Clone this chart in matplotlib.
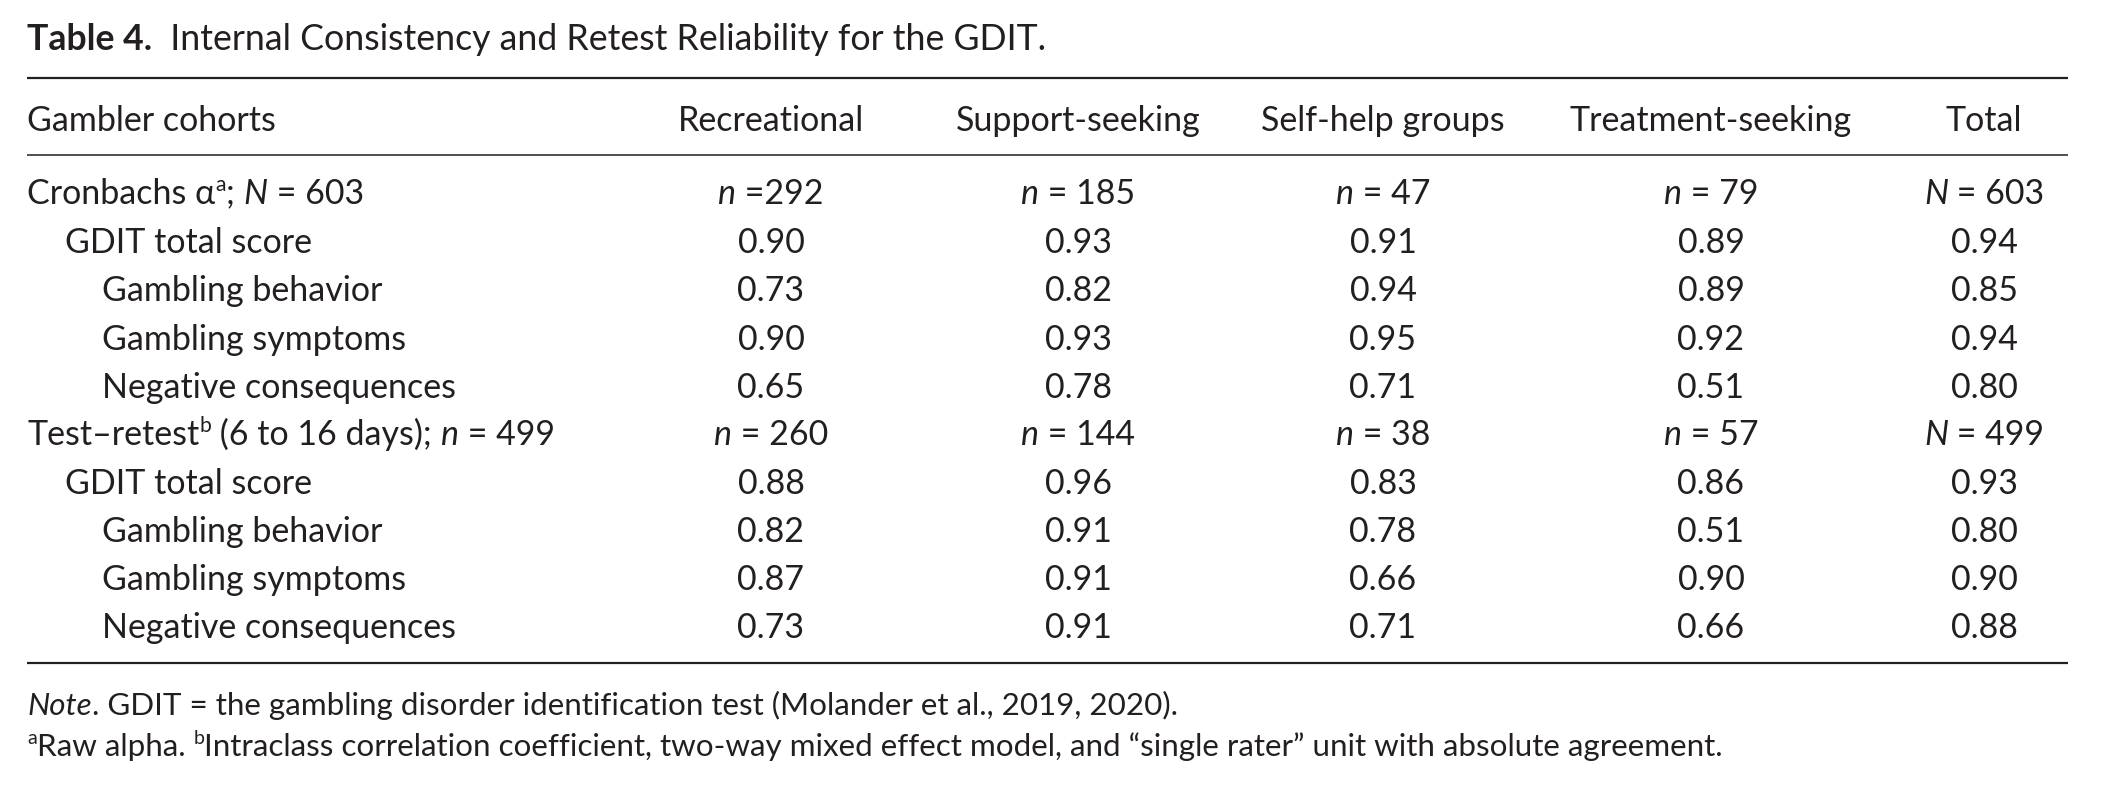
import matplotlib
matplotlib.use("Agg")
import matplotlib.pyplot as plt

FONT = "Lato"
INK = "#231f20"

title_bold = "Table 4."
title_rest = "Internal Consistency and Retest Reliability for the GDIT."
stub_header = "Gambler cohorts"
cohorts = ["Recreational", "Support-seeking", "Self-help groups", "Treatment-seeking", "Total"]

alpha_label = [("Cronbachs α", "n"), ("a", "sup"), ("; ", "n"), ("N", "i"), (" = 603", "n")]
alpha_n_sym = ["n", "n", "n", "n", "N"]
alpha_n_val = [" =292", " = 185", " = 47", " = 79", " = 603"]
alpha_items = ["GDIT total score", "Gambling behavior", "Gambling symptoms", "Negative consequences"]
alpha_indent = [1, 2, 2, 2]
alpha_values = [
    ["0.90", "0.93", "0.91", "0.89", "0.94"],
    ["0.73", "0.82", "0.94", "0.89", "0.85"],
    ["0.90", "0.93", "0.95", "0.92", "0.94"],
    ["0.65", "0.78", "0.71", "0.51", "0.80"],
]

retest_label = [("Test–retest", "n"), ("b", "sup"), (" (6 to 16 days); ", "n"), ("n", "i"), (" = 499", "n")]
retest_n_sym = ["n", "n", "n", "n", "N"]
retest_n_val = [" = 260", " = 144", " = 38", " = 57", " = 499"]
retest_items = ["GDIT total score", "Gambling behavior", "Gambling symptoms", "Negative consequences"]
retest_indent = [1, 2, 2, 2]
retest_values = [
    ["0.88", "0.96", "0.83", "0.86", "0.93"],
    ["0.82", "0.91", "0.78", "0.51", "0.80"],
    ["0.87", "0.91", "0.66", "0.90", "0.90"],
    ["0.73", "0.91", "0.71", "0.66", "0.88"],
]

note_line = [("Note", "i"), (". GDIT = the gambling disorder identification test (Molander et al., 2019, 2020).", "n")]
foot_line = [("a", "sup"), ("Raw alpha. ", "n"), ("b", "sup"),
             ("Intraclass correlation coefficient, two-way mixed effect model, and \u201csingle rater\u201d unit with absolute agreement.", "n")]

W, H = 2112, 789
fig = plt.figure(figsize=(W / 100, H / 100), dpi=100)
ax = fig.add_axes([0, 0, 1, 1])
ax.set_xlim(0, W)
ax.set_ylim(H, 0)
ax.axis("off")
renderer = fig.canvas.get_renderer()

FS = 24.5
TFS = 25.7
NFS = 22.6
x0 = 27
indent_px = [x0, 65, 102]
col_x = [771, 1078, 1383, 1711, 1984]
x_right = 2068


def seg_style(kind, fs):
    if kind == "sup":
        return dict(fontsize=fs * 0.62, style="normal", weight="normal"), -fs * 0.52
    if kind == "i":
        return dict(fontsize=fs, style="italic", weight="normal"), 0
    if kind == "b":
        return dict(fontsize=fs, style="normal", weight="bold"), 0
    return dict(fontsize=fs, style="normal", weight="normal"), 0


def draw_segments(segs, x, y, fs, align="left"):
    widths = []
    for txt, kind in segs:
        st, _ = seg_style(kind, fs)
        t = ax.text(0, 0, txt.replace(" ", "\u00a0"), family=FONT, **st)
        widths.append(t.get_window_extent(renderer).width)
        t.remove()
    total = sum(widths)
    if align == "center":
        x = x - total / 2
    cx = x
    for (txt, kind), w in zip(segs, widths):
        st, dy = seg_style(kind, fs)
        ax.text(cx, y + dy, txt.replace(" ", "\u00a0"), family=FONT, color=INK,
                va="baseline", ha="left", **st)
        cx += w
    return total


# title
draw_segments([(title_bold, "b"), ("  " + title_rest, "n")], x0, 50, TFS)

# rules
ax.plot([x0, x_right], [78, 78], color=INK, lw=1.6, solid_capstyle="butt")
ax.plot([x0, x_right], [155, 155], color=INK, lw=1.1, solid_capstyle="butt")
ax.plot([x0, x_right], [663, 663], color=INK, lw=1.6, solid_capstyle="butt")

BOFF = 12.5
hy = 118 + BOFF
ax.text(x0, hy, stub_header, family=FONT, fontsize=FS, color=INK, va="baseline")
for cx, c in zip(col_x, cohorts):
    ax.text(cx, hy, c, family=FONT, fontsize=FS, color=INK, va="baseline", ha="center")

row_y = [191, 240, 288, 337, 385, 432, 481, 529, 578, 626]


def block(label, syms, vals, items, indents, values, ys):
    y = ys[0] + BOFF
    draw_segments(label, x0, y, FS)
    for cx, s, v in zip(col_x, syms, vals):
        draw_segments([(s, "i"), (v, "n")], cx, y, FS, align="center")
    for item, ind, vrow, yy in zip(items, indents, values, ys[1:]):
        yb = yy + BOFF
        ax.text(indent_px[ind], yb, item, family=FONT, fontsize=FS, color=INK, va="baseline")
        for cx, v in zip(col_x, vrow):
            ax.text(cx, yb, v, family=FONT, fontsize=FS, color=INK, va="baseline", ha="center")


block(alpha_label, alpha_n_sym, alpha_n_val, alpha_items, alpha_indent, alpha_values, row_y[:5])
block(retest_label, retest_n_sym, retest_n_val, retest_items, retest_indent, retest_values, row_y[5:])

draw_segments(note_line, x0, 704 + 11, NFS)
draw_segments(foot_line, x0, 745 + 11, NFS)

fig.savefig("out.png", dpi=100)
